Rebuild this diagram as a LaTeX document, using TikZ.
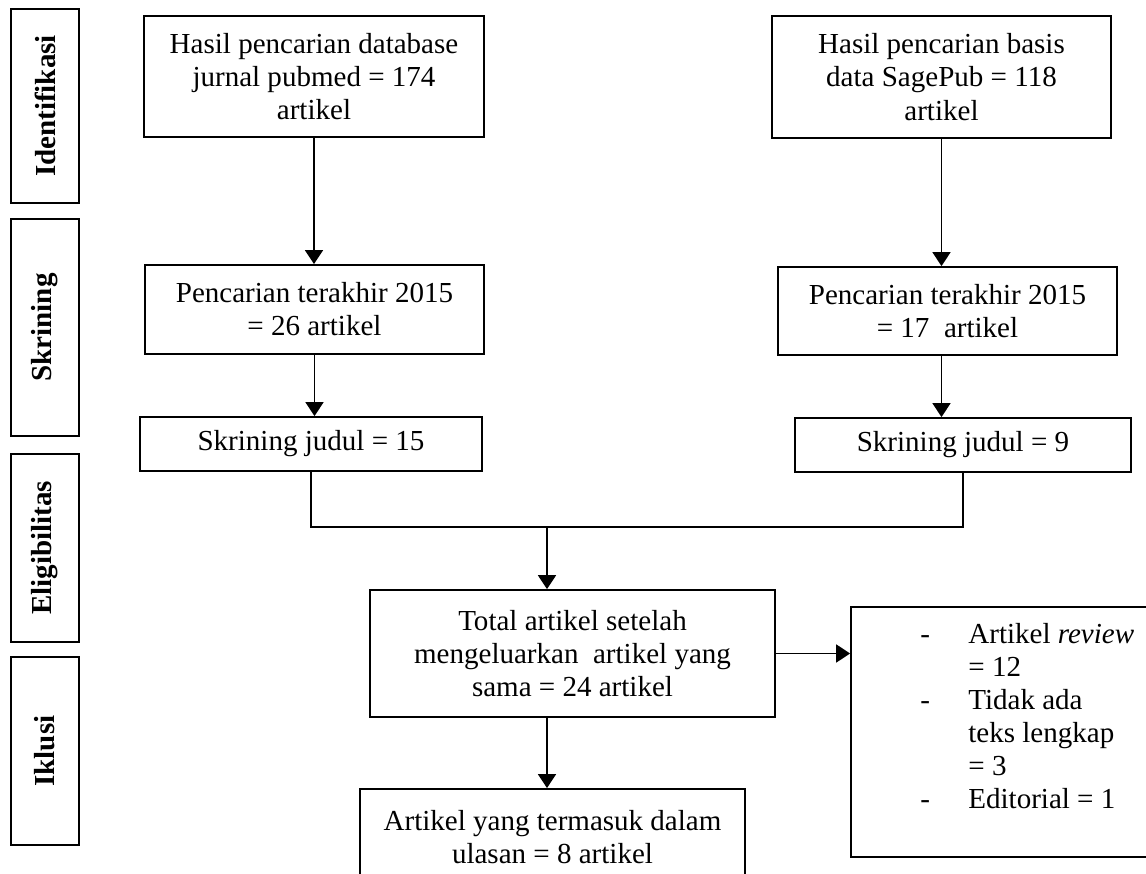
\documentclass[tikz,border=0pt]{standalone}
\usepackage{fontspec}
\setmainfont{Liberation Serif}
\usepackage{tikz}
\usetikzlibrary{arrows.meta}
\usetikzlibrary{positioning}

\tikzset{
    kotak/.style={draw, line width=0.8pt, align=center, inner sep=2pt, font=\fontsize{12.9}{14.7}\selectfont},
    fase/.style={draw, line width=1pt, rotate=90, minimum height=30.2pt, inner sep=1pt, font=\fontsize{12.9}{14.7}\selectfont\bfseries},
    panah/.style={line width=0.7pt, -{Triangle[length=6.2pt,width=8pt]}},
    garis/.style={line width=0.7pt}
}

\begin{document}
\begin{tikzpicture}[x=0.4444pt, y=-0.4444pt]
    \useasboundingbox (0,0) rectangle (1146,874);
    % Tahapan di sisi kiri
    \foreach \nama/\yy/\tinggi [count=\i] in {
        Identifikasi/106/86.2,
        Skrining/327.5/96.4,
        Eligibilitas/548/83.6,
        Iklusi/751/83.6
    } {
        \node[fase, minimum width=\tinggi pt] (fase\i) at (45,\yy) {\nama};
    }
    % Identifikasi
    \node[kotak, minimum width=151.1pt, minimum height=53.8pt] (pubmed) at (314,76.5)
        {Hasil pencarian database\\jurnal pubmed = 174\\artikel};
    \node[kotak, minimum width=150.7pt, minimum height=54.2pt] (sage) at (941.5,77)
        {Hasil pencarian basis\\data SagePub = 118\\artikel};
    % Skrining
    \node[kotak, minimum width=150.7pt, minimum height=39.6pt] (cari1) at (314.5,309.5)
        {Pencarian terakhir 2015\\= 26 artikel};
    \node[kotak, minimum width=150.7pt, minimum height=39.1pt] (cari2) at (947.5,311)
        {Pencarian terakhir 2015\\= 17\ \ artikel};
    \node[kotak, minimum width=152pt, minimum height=24pt] (judul1) at (311,444)
        {Skrining judul = 15};
    \node[kotak, minimum width=149.3pt, minimum height=24pt] (judul2) at (963,445)
        {Skrining judul = 9};
    % Eligibilitas dan iklusi
    \node[kotak, minimum width=180pt, minimum height=56.4pt] (total) at (572.5,653.5)
        {Total artikel setelah\\mengeluarkan\ \ artikel yang\\sama = 24 artikel};
    \node[kotak, minimum width=137.3pt, minimum height=111.1pt] (kecuali) at (1005.5,732) {};
    \node[anchor=north west, inner sep=0pt, font=\fontsize{12.9}{14.7}\selectfont] (daftar) at (920,620)
        {\begin{tabular}{@{}p{21.3pt}@{}l@{}}
            - & Artikel \textit{review}\\
              & = 12\\
            - & Tidak ada\\
              & teks lengkap\\
              & = 3\\
            - & Editorial = 1
        \end{tabular}};
    \node[kotak, minimum width=171.1pt, minimum height=42.7pt] (termasuk) at (552.5,837)
        {Artikel yang termasuk dalam\\ulasan = 8 artikel};
    % Panah
    \draw[panah] (pubmed.south) -- (pubmed.south |- cari1.north);
    \draw[panah] (sage.south) -- (sage.south |- cari2.north);
    \draw[panah] (cari1.south) -- (cari1.south |- judul1.north);
    \draw[panah] (cari2.south -| sage.south) -- (judul2.north -| sage.south);
    \coordinate (gabung) at (547,527);
    \draw[garis] (judul1.south) |- (gabung) -| (judul2.south);
    \draw[panah] (gabung) -- (gabung |- total.north);
    \draw[panah] (total.east) -- (total.east -| kecuali.west);
    \draw[panah] (gabung |- total.south) -- (gabung |- termasuk.north);
\end{tikzpicture}
\end{document}
